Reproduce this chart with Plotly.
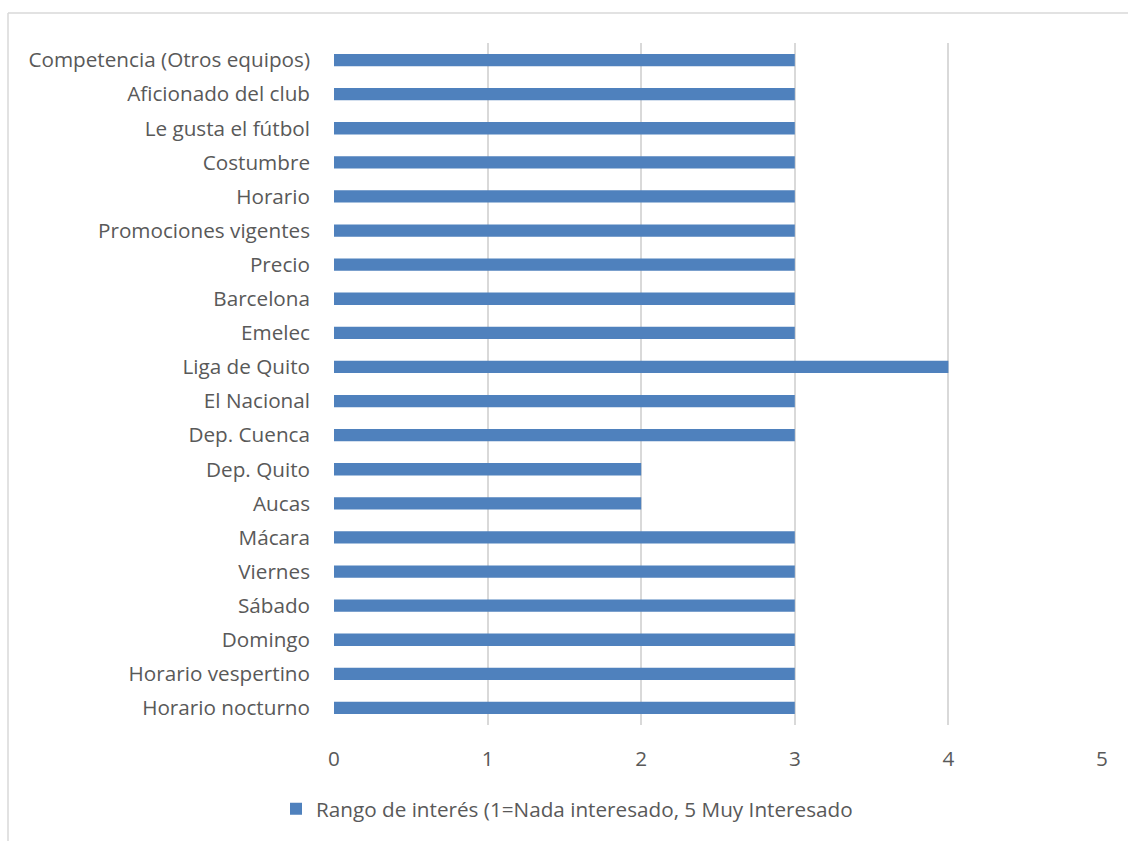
import plotly.graph_objects as go

categories = [
    "Horario nocturno", "Horario vespertino", "Domingo", "Sábado", "Viernes",
    "Mácara", "Aucas", "Dep. Quito", "Dep. Cuenca", "El Nacional",
    "Liga de Quito", "Emelec", "Barcelona", "Precio", "Promociones vigentes",
    "Horario", "Costumbre", "Le gusta el fútbol", "Aficionado del club",
    "Competencia (Otros equipos)",
]
values = [3, 3, 3, 3, 3, 3, 2, 2, 3, 3, 4, 3, 3, 3, 3, 3, 3, 3, 3, 3]
series_name = "Rango de interés (1=Nada interesado, 5 Muy Interesado"
x_ticks = [0, 1, 2, 3, 4, 5]

W, H = 1128, 841
L, R, T, B = 334, 1102, 43, 727
pw, ph = R - L, B - T

fig = go.Figure()
fig.add_trace(go.Bar(
    y=categories, x=values, orientation="h", name=series_name,
    marker=dict(color="#4f81bd", line=dict(width=0)), width=0.36,
    showlegend=True,
))

font = "'Open Sans', sans-serif"
fs = 20.7
fig.update_layout(
    width=W, height=H,
    margin=dict(l=L, r=W - R, t=T, b=H - B, pad=0),
    paper_bgcolor="white", plot_bgcolor="white",
    font=dict(family=font, size=fs, color="#595959"),
    showlegend=True,
    legend=dict(orientation="h", x=(276 - L) / pw, xanchor="left",
                y=(B - 811) / ph, yanchor="middle",
                font=dict(size=fs, color="#595959"), itemwidth=30),
    xaxis=dict(range=[0, 5], tickvals=x_ticks, showgrid=True,
               gridcolor="#d9d9d9", gridwidth=1.5, zeroline=False,
               showline=False, ticks="", ticklabelstandoff=19,
               tickfont=dict(size=fs, color="#595959"), fixedrange=True),
    yaxis=dict(range=[-0.5, len(categories) - 0.5], showgrid=False,
               zeroline=False, showline=False, ticks="",
               ticklabelstandoff=23, categoryorder="array",
               categoryarray=categories,
               tickfont=dict(size=fs, color="#595959")),
    shapes=[
        dict(type="line", xref="paper", yref="paper",
             x0=(8 - L) / pw, x1=(W + 20 - L) / pw,
             y0=(B - 13) / ph, y1=(B - 13) / ph,
             line=dict(color="#d9d9d9", width=1.5)),
        dict(type="line", xref="paper", yref="paper",
             x0=(8 - L) / pw, x1=(8 - L) / pw,
             y0=(B - 13) / ph, y1=(B - H - 20) / ph,
             line=dict(color="#d9d9d9", width=1.5)),
    ],
)
fig.write_html("out.html")
